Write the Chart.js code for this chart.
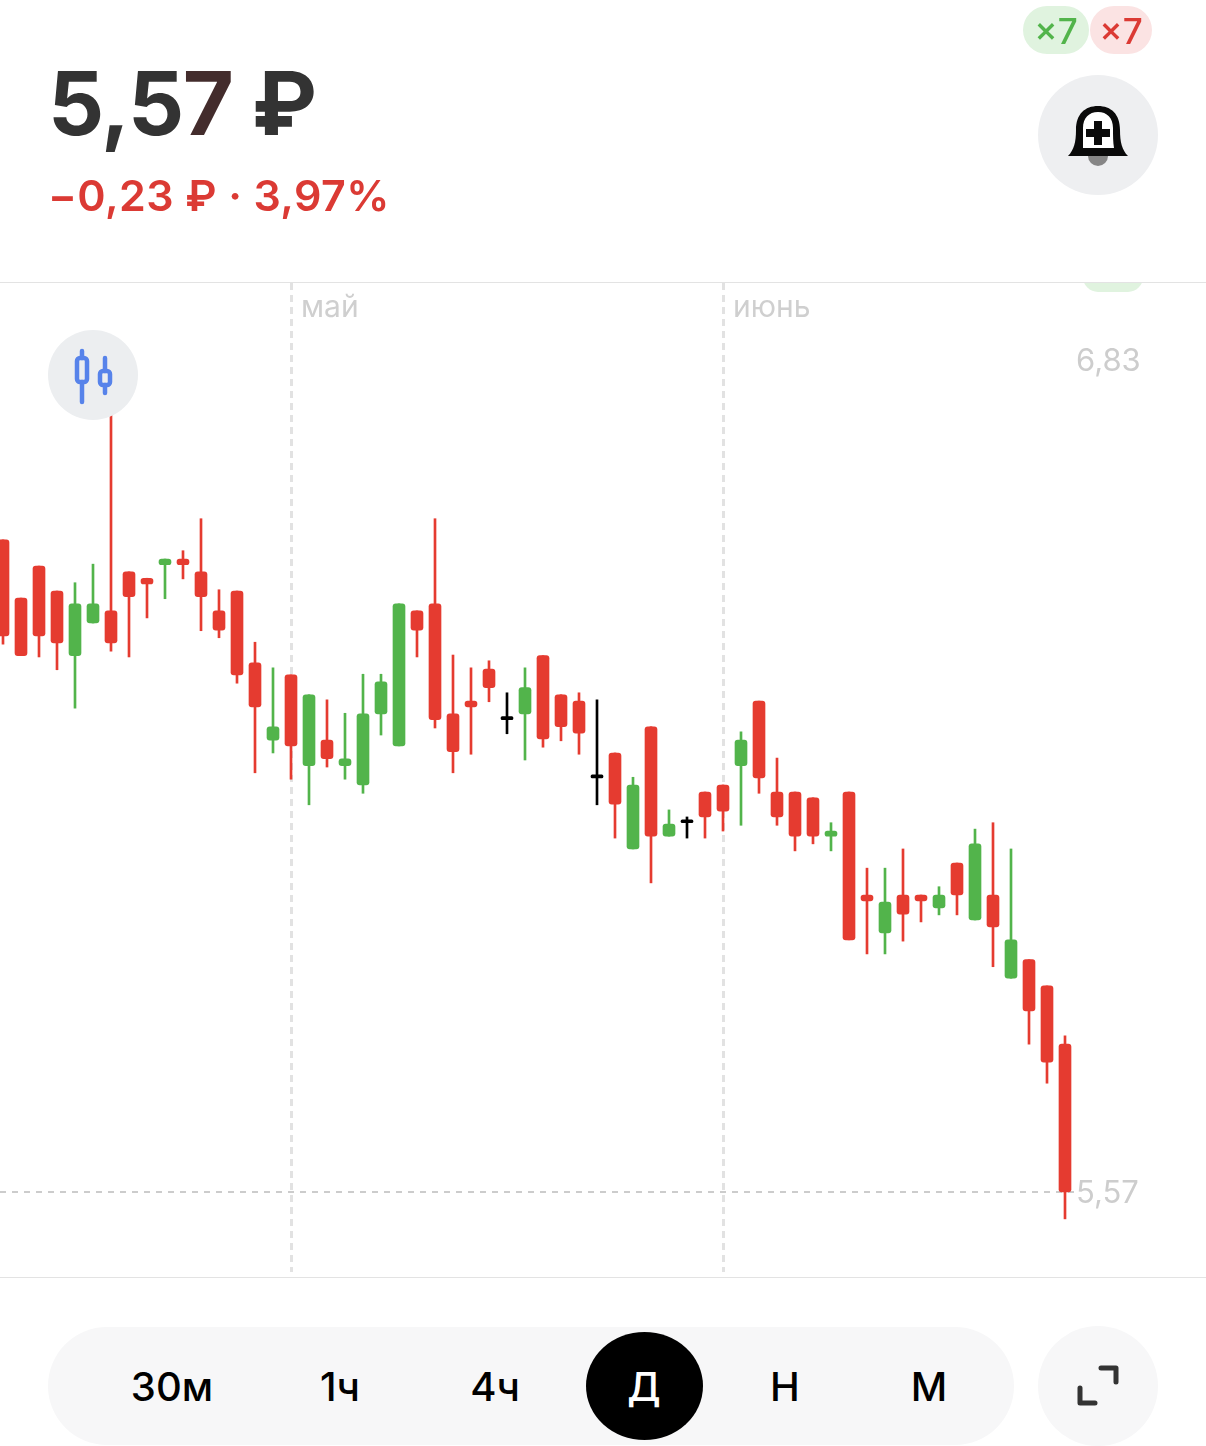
<!DOCTYPE html>
<html lang="ru">
<head>
<meta charset="utf-8">
<title>5,57 ₽</title>
<script src="https://cdn.jsdelivr.net/npm/chart.js@4/dist/chart.umd.min.js"></script>
<style>
html,body{margin:0;padding:0;background:#fff;}
#page{position:relative;width:1206px;height:1446px;overflow:hidden;font-family:Inter,"Noto Sans",sans-serif;}
#page>*{position:absolute;}
canvas{left:0;top:0;}
.t{white-space:pre;line-height:1;}
#price{left:48px;top:59px;font-size:88px;font-weight:700;color:#333;letter-spacing:-1.5px;}
#change{left:48px;top:174px;font-size:43px;font-weight:600;color:#db3a34;letter-spacing:.4px;}
.pill{border-radius:24px;text-align:center;font-size:35px;font-weight:500;line-height:50px;}
.line{left:0;width:1206px;height:1px;background:#e3e3e3;}
.tf{top:1367px;font-size:40px;font-weight:500;color:#000;transform:translateX(-50%);}
</style>
</head>
<body>
<div id="page">
  <div style="left:1083px;top:283px;width:60px;height:9px;overflow:hidden"><div style="width:60px;height:30px;margin-top:-21px;border-radius:15px;background:#e0f3df"></div></div>
  <canvas id="c" width="1206" height="1446"></canvas>

  <div id="price" class="t">5,5<span style="color:#432c2c">7</span> ₽</div>
  <div id="change" class="t">−0,23 ₽ · 3,97%</div>

  <div class="pill" style="left:1023px;top:6px;width:66px;height:48px;background:#e0f3df;color:#52b44b">×7</div>
  <div class="pill" style="left:1090px;top:6px;width:62px;height:48px;background:#fbe3e3;color:#db3a34">×7</div>

  <svg style="left:1038px;top:75px" width="120" height="120" viewBox="1038 75 120 120">
    <circle cx="1098" cy="135" r="60" fill="#eeeff1"/>
    <path d="M1088 156a10 10 0 0 0 20 0z" fill="#868686"/>
    <path d="M1068 156C1074 150 1076 142 1076 130C1076 114 1085 106 1098 106C1111 106 1120 114 1120 130C1120 142 1122 150 1128 156Z" fill="#0a0a0a"/>
    <path d="M1083 148C1083 142 1083 136 1083 128C1083 118 1089 112 1098 112C1107 112 1113 118 1113 128C1113 136 1113 142 1114 148Z" fill="#fff"/>
    <path d="M1094 121h8v8h8v8h-8v8h-8v-8h-8v-8h8z" fill="#0a0a0a"/>
  </svg>

  <div class="line" style="top:282px"></div>
  <div class="line" style="top:1277px"></div>

  <svg style="left:48px;top:330px" width="90" height="90" viewBox="48 330 90 90">
    <circle cx="93" cy="375" r="45" fill="#eceef0"/>
    <g stroke="#5783ea" stroke-width="4.5" stroke-linecap="round" fill="none">
      <path d="M82 351V358M82 382V402"/>
      <rect x="77" y="358" width="10" height="24" rx="3"/>
      <path d="M105 358V371M105 385V393"/>
      <rect x="100" y="371" width="10" height="14" rx="3"/>
    </g>
  </svg>

  <div style="left:48px;top:1327px;width:966px;height:118px;border-radius:59px;background:#f7f7f8"></div>
  <div style="left:1038px;top:1326px;width:120px;height:120px;border-radius:60px;background:#f7f7f8"></div>
  <div style="left:586px;top:1332px;width:117px;height:108px;border-radius:50%;background:#000"></div>
  <div class="tf t" style="left:172px">30м</div>
  <div class="tf t" style="left:340px">1ч</div>
  <div class="tf t" style="left:495px">4ч</div>
  <div class="tf t" style="left:644px;color:#fff">Д</div>
  <div class="tf t" style="left:785px">Н</div>
  <div class="tf t" style="left:929px">М</div>
  <svg style="left:1070px;top:1360px" width="56" height="54" viewBox="1070 1360 56 54">
    <path d="M1101 1368H1116V1382M1080 1388V1403H1095" stroke="#333" stroke-width="5" stroke-linecap="round" stroke-linejoin="round" fill="none"/>
  </svg>
</div>

<script>
const opens  = [6.589,6.498,6.548,6.509,6.408,6.459,6.478,6.539,6.529,6.550,6.559,6.539,6.478,6.509,6.397,6.276,6.378,6.236,6.276,6.236,6.206,6.317,6.267,6.478,6.489,6.317,6.337,6.387,6.308,6.317,6.408,6.347,6.337,6.217,6.256,6.106,6.297,6.126,6.147,6.195,6.206,6.236,6.337,6.195,6.195,6.186,6.126,6.195,6.034,5.975,6.034,6.034,6.014,6.084,5.995,6.034,5.904,5.933,5.892,5.801];
const closes = [6.439,6.408,6.439,6.428,6.489,6.489,6.428,6.500,6.520,6.559,6.550,6.500,6.448,6.378,6.328,6.297,6.267,6.347,6.247,6.247,6.317,6.367,6.489,6.448,6.308,6.258,6.328,6.358,6.308,6.358,6.278,6.297,6.287,6.217,6.176,6.206,6.126,6.145,6.147,6.156,6.165,6.276,6.217,6.156,6.126,6.126,6.134,5.964,6.025,6.023,6.004,6.025,6.034,6.034,6.114,5.984,5.964,5.853,5.773,5.570];
const highs  = [6.589,6.498,6.548,6.509,6.522,6.551,6.830,6.539,6.529,6.559,6.572,6.622,6.511,6.509,6.429,6.389,6.378,6.347,6.339,6.318,6.379,6.379,6.489,6.478,6.622,6.409,6.389,6.400,6.350,6.389,6.408,6.347,6.350,6.339,6.256,6.218,6.297,6.167,6.156,6.195,6.206,6.289,6.337,6.248,6.195,6.186,6.147,6.195,6.076,6.076,6.106,6.034,6.047,6.084,6.137,6.147,6.106,5.933,5.892,5.814];
const lows   = [6.426,6.408,6.406,6.386,6.326,6.459,6.415,6.406,6.467,6.497,6.528,6.447,6.436,6.365,6.225,6.256,6.215,6.175,6.234,6.215,6.193,6.284,6.267,6.406,6.295,6.225,6.254,6.336,6.286,6.245,6.265,6.275,6.254,6.175,6.123,6.106,6.053,6.126,6.123,6.123,6.134,6.143,6.193,6.143,6.103,6.114,6.103,5.964,5.942,5.942,5.962,5.992,6.003,6.003,5.995,5.922,5.904,5.801,5.740,5.528];
const monthIndexes = [16, 40];
const monthLabels  = ['май', 'июнь'];
const priceTickValues = [5.57, 6.87];
const priceTickLabels = ['5,57', '6,83'];
const lastPrice = 5.57;

const RED = '#e53b30', GREEN = '#52b44b', BLACK = '#000';
const colour = opens.map((o, i) => closes[i] > o ? GREEN : closes[i] < o ? RED : BLACK);
const wickData = highs.map((h, i) => ({x: i, y: [lows[i], h]}));
const bodyData = opens.map((o, i) => ({x: i, y: [closes[i], o]}));

new Chart(document.getElementById('c'), {
  type: 'bar',
  data: {
    datasets: [
      {label: 'тени', data: wickData, backgroundColor: colour, barThickness: 2, grouped: false, order: 2},
      {label: 'свечи', data: bodyData, backgroundColor: colour, barThickness: 12, grouped: false, order: 1,
       borderRadius: 3, borderSkipped: false, minBarLength: 3}
    ]
  },
  options: {
    responsive: false,
    animation: false,
    events: [],
    layout: {padding: {top: 283, bottom: 174, left: 0, right: 0}},
    plugins: {legend: {display: false}, tooltip: {enabled: false}},
    scales: {
      x: {
        type: 'linear',
        position: 'top',
        offset: false,
        min: -1 / 6,
        max: 1073 / 18,
        afterFit: s => { s.height = 0; },
        afterBuildTicks: s => { s.ticks = monthIndexes.map(v => ({value: v})); },
        border: {display: false, dash: [7, 5]},
        grid: {offset: false, color: '#e2e2e2', lineWidth: 3, drawTicks: false},
        ticks: {
          autoSkip: false, maxRotation: 0, mirror: true, align: 'start', labelOffset: 10, padding: 7,
          color: '#cfcfcf', font: {family: 'Inter', size: 30},
          callback: v => monthLabels[monthIndexes.indexOf(v)]
        }
      },
      y: {
        position: 'right',
        min: 5.445,
        max: 6.9903,
        afterFit: s => { s.width = 130; },
        afterBuildTicks: s => { s.ticks = priceTickValues.map(v => ({value: v})); },
        border: {display: false, dash: [6, 6]},
        grid: {
          drawTicks: false,
          color: c => c.tick && c.tick.value === lastPrice ? '#cccccc' : 'rgba(0,0,0,0)',
          lineWidth: 2
        },
        ticks: {
          padding: 0, labelOffset: 2, color: '#cdcdcd', font: {family: 'Inter', size: 31},
          callback: v => priceTickLabels[priceTickValues.indexOf(v)]
        }
      }
    }
  }
});
</script>
</body>
</html>
